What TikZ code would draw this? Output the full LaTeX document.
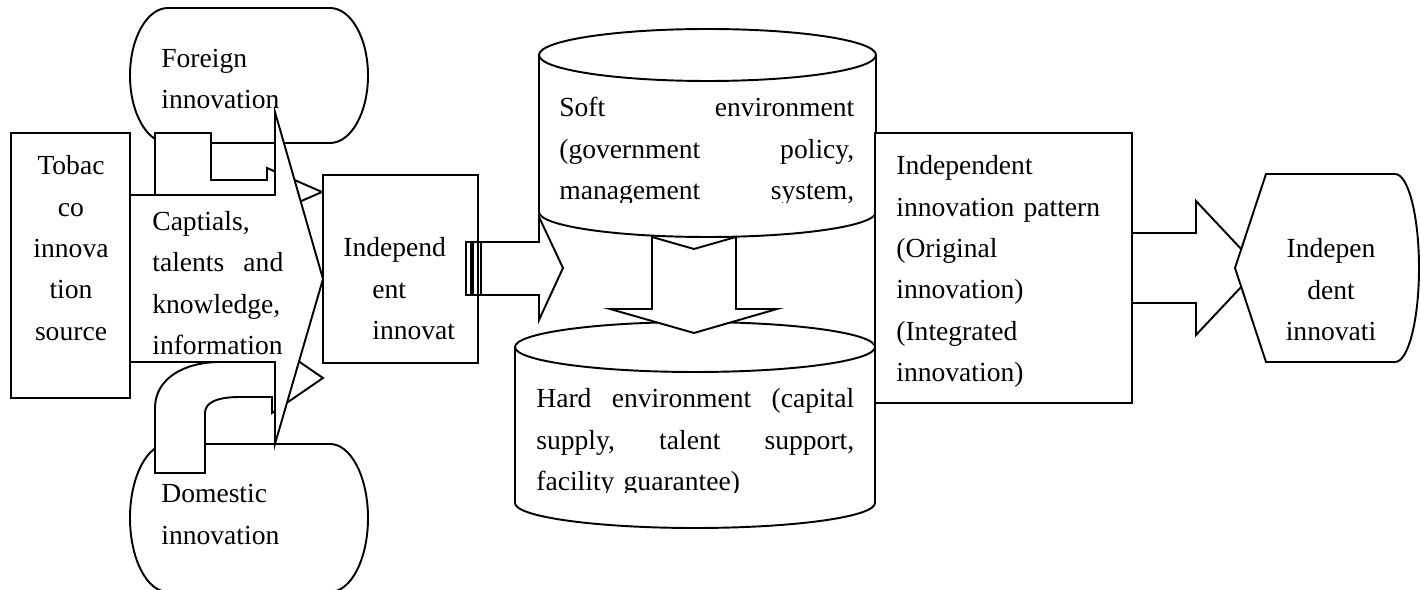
\documentclass[tikz,border=0pt]{standalone}
\usepackage{fontspec}
\setmainfont{Liberation Serif}
\begin{document}
\begin{tikzpicture}[x=0.02cm,y=-0.02cm,
    blk/.style={draw,fill=white,line width=1.1pt},
    txt/.style={inner sep=0pt,font=\fontsize{15.7}{23.5}\selectfont}]
    \useasboundingbox (0,0) rectangle (1421,590);
    % sources
    \draw[blk] (168,8) -- (330,8) .. controls (351,8) and (368,38.2) .. (368,75.5)
        .. controls (368,112.8) and (351,143) .. (330,143) -- (168,143)
        .. controls (147,143) and (130,112.8) .. (130,75.5)
        .. controls (130,38.2) and (147,8) .. (168,8) -- cycle;
    \draw[blk] (168,444) -- (330,444) .. controls (351,444) and (368,477.1) .. (368,518)
        .. controls (368,558.9) and (351,592) .. (330,592) -- (168,592)
        .. controls (147,592) and (130,558.9) .. (130,518)
        .. controls (130,477.1) and (147,444) .. (168,444) -- cycle;
    \draw[blk] (11,133) rectangle (130,398);
    \draw[blk] (155,133) -- (211,133) -- (211,180) -- (267,180) -- (267,168) -- (322,192)
        -- (267,216) -- (267,204) -- (155,204) -- cycle;
    \draw[blk] (155,473) -- (155,408) .. controls (155,378) and (185,362) .. (220,362)
        -- (272,362) -- (272,343) -- (323,378) -- (272,413) -- (272,397) -- (240,397)
        .. controls (216,397) and (205,403) .. (205,413) -- (205,473) -- cycle;
    \draw[blk] (130,195) -- (275,195) -- (275,112) -- (323,279) -- (275,444) -- (275,362)
        -- (130,362) -- cycle;
    % independent innovation
    \draw[blk] (323,175) rectangle (478,363);
    \draw[line width=0.75pt] (466,242) rectangle (471,295) (473,242) rectangle (481,295);
    \draw[blk] (481,242) -- (539,242) -- (539,217) -- (563,268) -- (539,320) -- (539,295)
        -- (481,295) -- cycle;
    % environments
    \draw[blk] (515,347) -- (515,503) .. controls (515,516.8) and (595.6,528) .. (695,528)
        .. controls (794.4,528) and (875,516.8) .. (875,503) -- (875,347);
    \draw[blk] (695,347) ellipse [x radius=180,y radius=25];
    \draw[blk] (539,55) -- (539,212) .. controls (539,225.8) and (614.4,237) .. (707.5,237)
        .. controls (800.6,237) and (876,225.8) .. (876,212) -- (876,55);
    \draw[blk] (707.5,55) ellipse [x radius=168.5,y radius=26];
    \draw[blk] (652,237) -- (694,249) -- (736,237) -- (736,309) -- (777,309) -- (694,333)
        -- (610,309) -- (652,309) -- cycle;
    % pattern and result
    \draw[blk] (875,133) rectangle (1132,403);
    \draw[blk] (1132,233) -- (1196,233) -- (1196,201) -- (1259,268) -- (1196,335) -- (1196,303)
        -- (1132,303) -- cycle;
    \draw[blk] (1235,268) -- (1266,174) -- (1395,174) .. controls (1408.3,174) and (1419,215.9) .. (1419,268)
        .. controls (1419,320.1) and (1408.3,362) .. (1395,362) -- (1266,362) -- cycle;
    % labels
    \node[txt,anchor=base,align=center,text width=2.2cm] (src) at (71,175)
        {Tobac\\co\\innova\\tion\\source};
    \node[txt,anchor=base west,align=left,text width=3cm] (foreign) at (161,67.5)
        {Foreign\\innovation};
    \node[txt,anchor=base west,align=left,text width=3cm] (domestic) at (161,503)
        {Domestic\\innovation};
    \node[txt,anchor=base west,align=left,text width=2.62cm] (caps) at (152,230.5)
        {Captials,\\talents\hfill and\\knowledge,\\information};
    \node[txt,anchor=base west,align=left,text width=2.6cm] (indep) at (343,257)
        {Independ\\\hspace*{0.58cm}ent\\\hspace*{0.58cm}innovat};
    \begin{scope}
        \clip (539,80) rectangle (876,203);
        \node[txt,anchor=base west,align=left,text width=5.9cm] (soft) at (559,117)
            {Soft\hfill environment\\(government\hfill policy,\\management\hfill system,};
    \end{scope}
    \begin{scope}
        \clip (515,372) rectangle (875,493);
        \node[txt,anchor=base west,align=left,text width=6.36cm] (hard) at (536,408)
            {Hard\hfill environment\hfill (capital\\supply,\hfill talent\hfill support,\\facility guarantee)};
    \end{scope}
    \node[txt,anchor=base west,align=left,text width=4.6cm] (pattern) at (896,175)
        {Independent\\innovation pattern\\(Original\\innovation)\\(Integrated\\innovation)};
    \node[txt,anchor=base,align=center,text width=2.4cm] (result) at (1331,258)
        {Indepen\\dent\\innovati};
\end{tikzpicture}
\end{document}
